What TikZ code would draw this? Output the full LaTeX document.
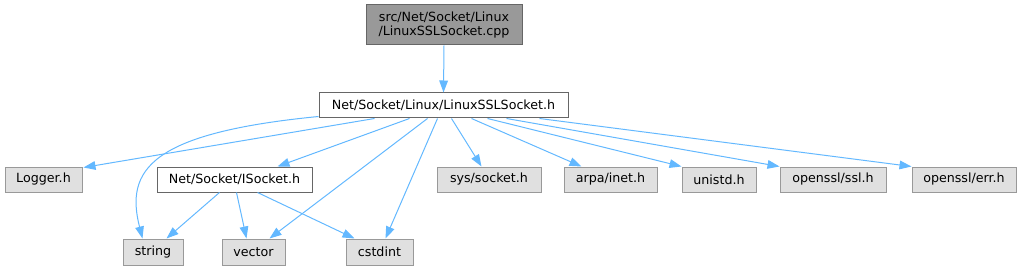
\documentclass[tikz,border=0pt]{standalone}
\usepackage{fontspec}
\setmainfont{DejaVu Sans}
\usetikzlibrary{arrows.meta,calc}
\definecolor{edgeblue}{HTML}{63B8FF}
\definecolor{boxgray}{HTML}{E0E0E0}
\definecolor{boxline}{HTML}{999999}
\definecolor{darkline}{HTML}{666666}
\definecolor{topfill}{HTML}{999999}
\tikzset{
  hdr/.style={draw=boxline, fill=boxgray, line width=0.75pt, inner sep=0pt, minimum height=25*0.75pt, font=\fontsize{9.5}{11.2}\selectfont, text=black},
  loc/.style={hdr, draw=darkline, fill=white},
  topbox/.style={hdr, draw=darkline, fill=topfill, align=center, minimum height=40*0.75pt},
  dep/.style={draw=edgeblue, line width=0.75pt, -{Triangle[length=9pt,width=6.5pt]}}
}
\begin{document}
\begin{tikzpicture}[x=0.75pt,y=-0.75pt]
\useasboundingbox (0,0) rectangle (1022,271);
\node[topbox, minimum width=156*0.75pt] (top) at (444,25) {src/Net/Socket/Linux\\/LinuxSSLSocket.cpp};
\node[loc, minimum width=249*0.75pt] (main) at (443.5,105.5) {Net/Socket/Linux/LinuxSSLSocket.h};
\node[hdr, minimum width=77*0.75pt] (logger) at (43.5,179.5) {Logger.h};
\node[loc, minimum width=155*0.75pt] (isocket) at (234.5,179.5) {Net/Socket/ISocket.h};
\node[hdr, minimum width=104*0.75pt] (sys) at (489,179.5) {sys/socket.h};
\node[hdr, minimum width=93*0.75pt] (arpa) at (610.5,179.5) {arpa/inet.h};
\node[hdr, minimum width=74*0.75pt] (unistd) at (719,179.5) {unistd.h};
\node[hdr, minimum width=106*0.75pt] (ssl) at (833,179.5) {openssl/ssl.h};
\node[hdr, minimum width=104*0.75pt] (err) at (964,179.5) {openssl/err.h};
\node[hdr, minimum width=60*0.75pt, minimum height=26*0.75pt] (string) at (153,252) {string};
\node[hdr, minimum width=63*0.75pt, minimum height=26*0.75pt] (vector) at (253.5,252) {vector};
\node[hdr, minimum width=67*0.75pt, minimum height=26*0.75pt] (cstdint) at (379.5,252) {cstdint};

\draw[dep] (top.south) -- (main.north);
\draw[dep] ($(main.south west)+(56,0)$) -- ($(logger.north east)+(1,1)$);
\draw[dep] ($(main.south west)+(0,-2)$) .. controls (150,133) and (125,170) .. ($(string.north west)+(20,0)$);
\draw[dep] ($(main.south west)+(91,0)$) -- ($(isocket.north west)+(121,0)$);
\draw[dep] ($(main.south west)+(109,0)$) -- ($(vector.north west)+(48,0)$);
\draw[dep] ($(main.south west)+(119,0)$) -- ($(cstdint.north west)+(40,0)$);
\draw[dep] ($(main.south west)+(133,0)$) -- ($(sys.north west)+(45,0)$);
\draw[dep] ($(main.south west)+(153,0)$) -- ($(arpa.north west)+(18,0)$);
\draw[dep] ($(main.south west)+(169,0)$) -- (unistd.north west);
\draw[dep] ($(main.south west)+(188,0)$) -- (ssl.north west);
\draw[dep] ($(main.south west)+(221,0)$) -- (err.north west);
\draw[dep] ($(isocket.south west)+(63,0)$) -- ($(string.north west)+(44,0)$);
\draw[dep] ($(isocket.south west)+(80,0)$) -- ($(vector.north west)+(25,0)$);
\draw[dep] ($(isocket.south west)+(101,0)$) -- ($(cstdint.north west)+(9,0)$);
\end{tikzpicture}
\end{document}
